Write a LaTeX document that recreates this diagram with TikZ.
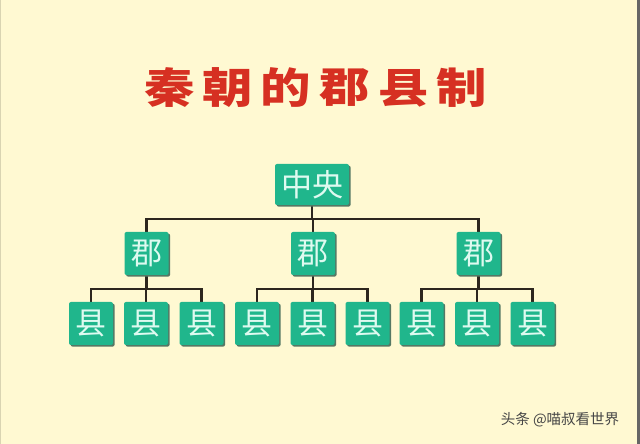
\documentclass[tikz,border=0pt]{standalone}
\usepackage{fontspec}
\newfontfamily\cjk{Noto Sans CJK SC}
\usetikzlibrary{backgrounds,shadows}
\definecolor{bg}{RGB}{255,249,210}
\definecolor{boxfill}{RGB}{32,182,140}
\definecolor{boxshadow}{RGB}{85,120,100}
\definecolor{boxtext}{RGB}{222,250,240}
\definecolor{titlered}{RGB}{214,48,34}
\definecolor{linecol}{RGB}{45,38,30}
\definecolor{wmark}{RGB}{70,70,70}
\tikzset{
  orgbox/.style={fill=boxfill, rounded corners=2pt, minimum width=44pt, minimum height=43pt,
    inner sep=0pt, text=boxtext, font=\cjk\fontsize{31}{31}\selectfont,
    drop shadow={shadow xshift=1.6pt, shadow yshift=-1.6pt, fill=boxshadow, opacity=1}},
  titlechar/.style={text=titlered, font=\cjk\bfseries\fontsize{42}{42}\selectfont, inner sep=0pt,
    xscale=1.2, transform shape},
  conn/.style={draw=linecol, line width=2.2pt}
}
\begin{document}
\begin{tikzpicture}[x=1pt,y=1pt]
\useasboundingbox (0,0) rectangle (640,444);
% title
\node[titlechar] (t1) at (170,356) {秦};
\node[titlechar] (t2) at (228,356) {朝};
\node[titlechar] (t3) at (286,356) {的};
\node[titlechar] (t4) at (345,356) {郡};
\node[titlechar] (t5) at (404,356) {县};
\node[titlechar] (t6) at (462,356) {制};
% nodes
\node[orgbox, minimum width=74pt, minimum height=41pt] (zhong) at (312,259.5) {中央};
\node[orgbox] (jun1) at (146.5,190.5) {郡};
\node[orgbox] (jun2) at (313,190.5) {郡};
\node[orgbox] (jun3) at (478.5,190.5) {郡};
\node[orgbox] (x11) at (91,120.5) {县};
\node[orgbox] (x12) at (146,120.5) {县};
\node[orgbox] (x13) at (201.5,120.5) {县};
\node[orgbox] (x21) at (257,120.5) {县};
\node[orgbox] (x22) at (312.5,120.5) {县};
\node[orgbox] (x23) at (367.5,120.5) {县};
\node[orgbox] (x31) at (421.5,120.5) {县};
\node[orgbox] (x32) at (477,120.5) {县};
\node[orgbox] (x33) at (532.5,120.5) {县};
\coordinate (bar) at (0,225);
\coordinate (sub) at (0,155);
\begin{scope}[on background layer]
\fill[bg] (0,0) rectangle (640,444);
\fill[gray!80!black] (636.5,0) rectangle (640,444);
\fill[bg!85!black] (0,0) rectangle (1,444);
\draw[conn] (zhong.south) -- (zhong.south |- bar);
\draw[conn] (jun1.north) -- (jun1.north |- bar) -- (jun3.north |- bar) -- (jun3.north);
\draw[conn] (jun2.north) -- (jun2.north |- bar);
\foreach \j/\a/\b/\c in {jun1/x11/x12/x13, jun2/x21/x22/x23, jun3/x31/x32/x33}{
  \draw[conn] (\j.south) -- (\j.south |- sub);
  \draw[conn] (\a.north) -- (\a.north |- sub) -- (\c.north |- sub) -- (\c.north);
  \draw[conn] (\b.north) -- (\b.north |- sub);
}
\end{scope}
\node[text=wmark, font=\cjk\fontsize{14.5}{14.5}\selectfont, inner sep=0pt] (wm) at (560,24) {头条 @喵叔看世界};
\end{tikzpicture}
\end{document}
